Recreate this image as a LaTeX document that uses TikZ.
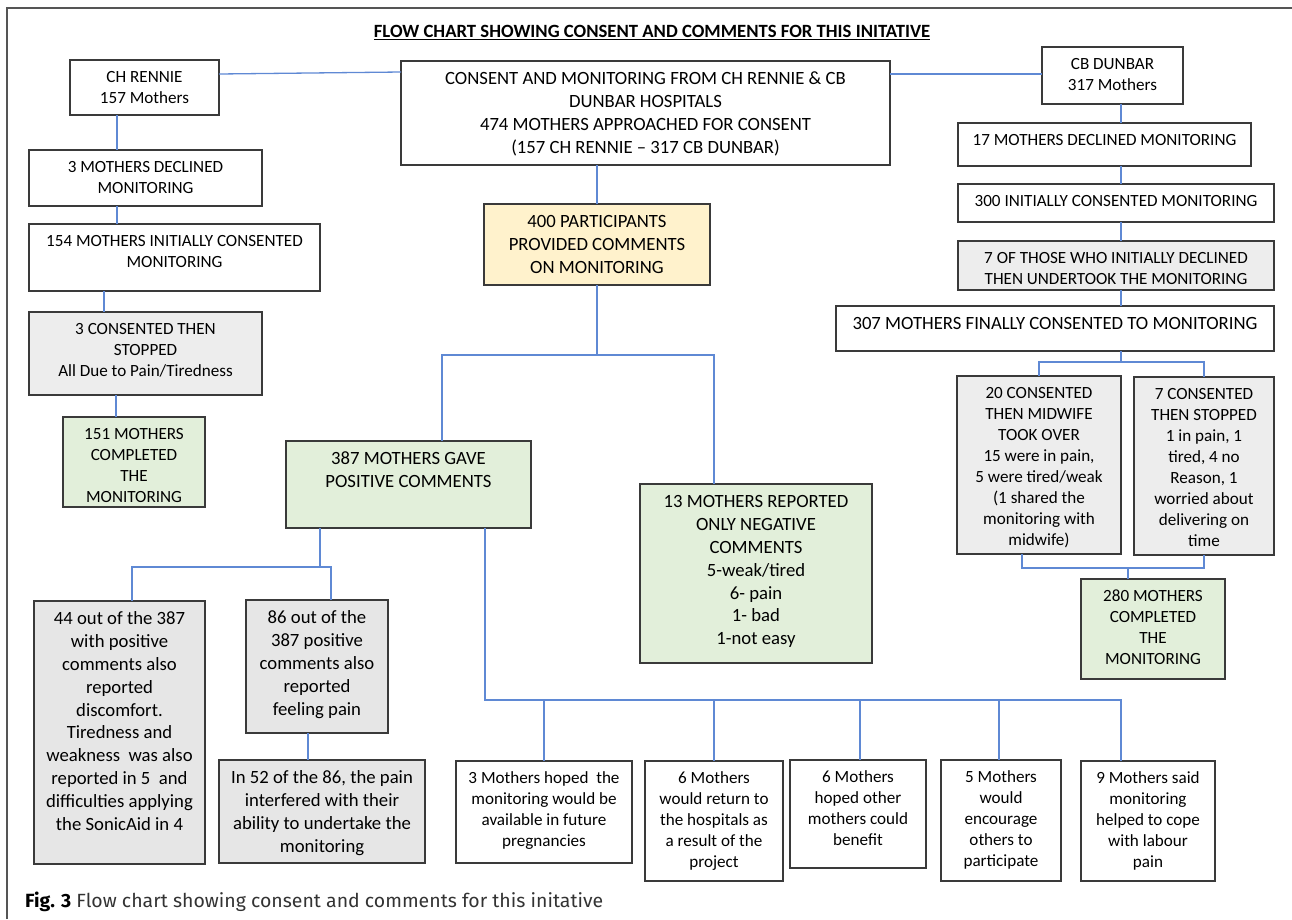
\documentclass[tikz,border=0pt]{standalone}
\usepackage{fontspec}
\setmainfont{Carlito}
\newfontfamily\capfont{Fira Sans}
\definecolor{bord}{HTML}{3A3A3A}
\definecolor{conncol}{HTML}{5F89D4}
\definecolor{gfill}{HTML}{E2EFDA}
\definecolor{grayA}{HTML}{EDEDED}
\definecolor{grayB}{HTML}{E6E6E6}
\definecolor{yfill}{HTML}{FFF2CC}
\definecolor{framecol}{HTML}{555555}
\newcommand\mybox[7]{%
  \pgfmathsetmacro\bw{#4-#2}%
  \pgfmathsetmacro\bh{#5-#3}%
  \pgfmathsetmacro\bcx{(#2+#4)/2}%
  \pgfmathsetmacro\bcy{(#3+#5)/2}%
  \node[boxst,#6] (#1) at (\bcx,\bcy) {\parbox[c][\bh pt][t]{\bw pt}{\centering\vspace*{8pt}\strut #7\par}};%
}
\tikzset{
  boxst/.style={draw=bord, line width=1.2pt, fill=white, inner sep=0pt, outer sep=0pt, text=black},
  small/.style={font=\fontsize{17.1}{21}\selectfont},
  large/.style={font=\fontsize{18.7}{22.8}\selectfont},
  green/.style={fill=gfill},
  grayA/.style={fill=grayA},
  grayB/.style={fill=grayB},
  yellow/.style={fill=yfill},
  conn/.style={draw=conncol, line width=1.3pt},
}
\begin{document}
\begin{tikzpicture}[x=1pt,y=-1pt]
\useasboundingbox (0,0) rectangle (1292,919);
\draw[framecol, line width=1.2pt] (7,919) -- (7,8) -- (1292,8);
\node[anchor=base, font=\fontsize{18.7}{22.8}\selectfont\bfseries] (title) at (652,37.5) {\underline{FLOW CHART SHOWING CONSENT AND COMMENTS FOR THIS INITATIVE}};

% top row
\mybox{rennie}{70}{60}{219}{115}{small}{CH RENNIE\\157 Mothers}
\mybox{main}{401}{61}{890}{165}{large}{CONSENT AND MONITORING FROM CH RENNIE \& CB\\DUNBAR HOSPITALS\\474 MOTHERS APPROACHED FOR CONSENT\\(157 CH RENNIE – 317 CB DUNBAR)}
\mybox{dunbar}{1042}{47}{1183}{104}{small}{CB DUNBAR\\317 Mothers}

% right column
\mybox{decl17}{958}{123}{1251}{166}{small}{17 MOTHERS DECLINED MONITORING}
\mybox{init300}{958}{184}{1274}{222}{small}{300 INITIALLY CONSENTED MONITORING}
\mybox{und7}{958}{241}{1274}{290}{small,grayA}{7 OF THOSE WHO INITIALLY DECLINED\\THEN UNDERTOOK THE MONITORING}
\mybox{final307}{836}{306}{1274}{351}{large}{307 MOTHERS FINALLY CONSENTED TO MONITORING}
\mybox{mid20}{957}{376}{1121}{554}{small,grayA}{20 CONSENTED\\THEN MIDWIFE\\TOOK OVER\\15 were in pain,\\5 were tired/weak\\(1 shared the\\monitoring with\\midwife)}
\mybox{stop7}{1134}{377}{1274}{555}{small,grayA}{7 CONSENTED\\THEN STOPPED\\1 in pain, 1\\tired, 4 no\\Reason, 1\\worried about\\delivering on\\time}
\mybox{comp280}{1081}{579}{1225}{679}{small,green}{280 MOTHERS\\COMPLETED\\THE\\MONITORING}

% left column
\mybox{decl3}{29}{150}{262}{206}{small}{3 MOTHERS DECLINED\\MONITORING}
\mybox{init154}{29}{224}{320}{291}{small}{154 MOTHERS INITIALLY CONSENTED\\MONITORING}
\mybox{stop3}{29}{312}{262}{395}{small,grayA}{3 CONSENTED THEN\\STOPPED\\All Due to Pain/Tiredness}
\mybox{comp151}{63}{417}{205}{507}{small,green}{151 MOTHERS\\COMPLETED\\THE\\MONITORING}

% middle
\mybox{part400}{484}{204}{710}{285}{large,yellow}{400 PARTICIPANTS\\PROVIDED COMMENTS\\ON MONITORING}
\mybox{pos387}{286}{441}{531}{528}{large,green}{387 MOTHERS GAVE\\POSITIVE COMMENTS}
\mybox{neg13}{640}{484}{872}{663}{large,green}{13 MOTHERS REPORTED\\ONLY NEGATIVE\\COMMENTS\\5-weak/tired\\6- pain\\1- bad\\1-not easy}
\mybox{dis44}{34}{601}{205}{864}{large,grayB}{44 out of the 387\\with positive\\comments also\\reported\\discomfort.\\Tiredness and\\weakness~ was also\\reported in 5~ and\\difficulties applying\\the SonicAid in 4}
\mybox{pain86}{246}{600}{388}{733}{large,grayB}{86 out of the\\387 positive\\comments also\\reported\\feeling pain}
\mybox{int52}{219}{760}{425}{863}{large,grayB}{In 52 of the 86, the pain\\interfered with their\\ability to undertake the\\monitoring}

% bottom row
\mybox{fut3}{456}{761}{632}{863}{small}{3 Mothers hoped~ the\\monitoring would be\\available in future\\pregnancies}
\mybox{ret6}{645}{761}{783}{881}{small}{6 Mothers\\would return to\\the hospitals as\\a result of the\\project}
\mybox{ben6}{790}{760}{926}{868}{small}{6 Mothers\\hoped other\\mothers could\\benefit}
\mybox{enc5}{941}{760}{1061}{881}{small}{5 Mothers\\would\\encourage\\others to\\participate}
\mybox{cope9}{1081}{761}{1215}{881}{small}{9 Mothers said\\monitoring\\helped to cope\\with labour\\pain}

% junction coordinates
\coordinate (xr) at (1121,0);
\coordinate (xl1) at (117,0);
\coordinate (xl2) at (104,0);
\coordinate (xl3) at (116,0);
\coordinate (j1) at (1121,362);
\coordinate (j2) at (1128,568);
\coordinate (j3) at (597,355);
\coordinate (j4) at (320,567);
\coordinate (j5) at (485,700);

% connectors: top
\draw[conn] ([yshift=-14pt]rennie.north east) -- ([yshift=-11pt]main.north west);
\draw[conn] ([yshift=-13pt]main.north east) -- ([yshift=-27pt]dunbar.north west);
\draw[conn] (part400.north) -- (part400.north |- main.south);

% right column
\draw[conn] (dunbar.south -| xr) -- (decl17.north -| xr);
\draw[conn] (decl17.south -| xr) -- (init300.north -| xr);
\draw[conn] (init300.south -| xr) -- (und7.north -| xr);
\draw[conn] (und7.south -| xr) -- (final307.north -| xr);
\draw[conn] (final307.south -| j1) -- (j1);
\draw[conn] (mid20.north) |- (j1) -| (stop7.north);
\draw[conn] ([xshift=-17pt]mid20.south) |- (j2) -| (stop7.south);
\draw[conn] (j2) -- (comp280.north -| j2);

% left column
\draw[conn] (rennie.south -| xl1) -- (decl3.north -| xl1);
\draw[conn] (decl3.south -| xl1) -- (init154.north -| xl1);
\draw[conn] (init154.south -| xl2) -- (stop3.north -| xl2);
\draw[conn] (stop3.south -| xl3) -- (comp151.north -| xl3);

% middle
\draw[conn] (part400.south) -- (j3);
\draw[conn] ([xshift=33.5pt]pos387.north) |- (j3) -| ([xshift=-42pt]neg13.north);
\draw[conn] (pos387.south -| j4) -- (j4);
\draw[conn] ([xshift=12.5pt]dis44.north) |- (j4) -| ([xshift=14pt]pain86.north);
\draw[conn] ([xshift=-9pt]pain86.south) -- ([xshift=-14pt]int52.north);
\draw[conn] (pos387.south -| j5) -- (j5) -| ([xshift=-27pt]cope9.north);
\draw[conn] (fut3.north) -- (fut3.north |- j5);
\draw[conn] (ret6.north) -- (ret6.north |- j5);
\draw[conn] ([xshift=2pt]ben6.north) -- ([xshift=2pt]ben6.north |- j5);
\draw[conn] ([xshift=-2pt]enc5.north) -- ([xshift=-2pt]enc5.north |- j5);

% caption
\node[anchor=base west, inner sep=0pt, text=black!80] (caption) at (25,907) {\resizebox{578pt}{15.5pt}{\capfont\textbf{\color{black}Fig. 3} Flow chart showing consent and comments for this initative}};
\end{tikzpicture}
\end{document}
